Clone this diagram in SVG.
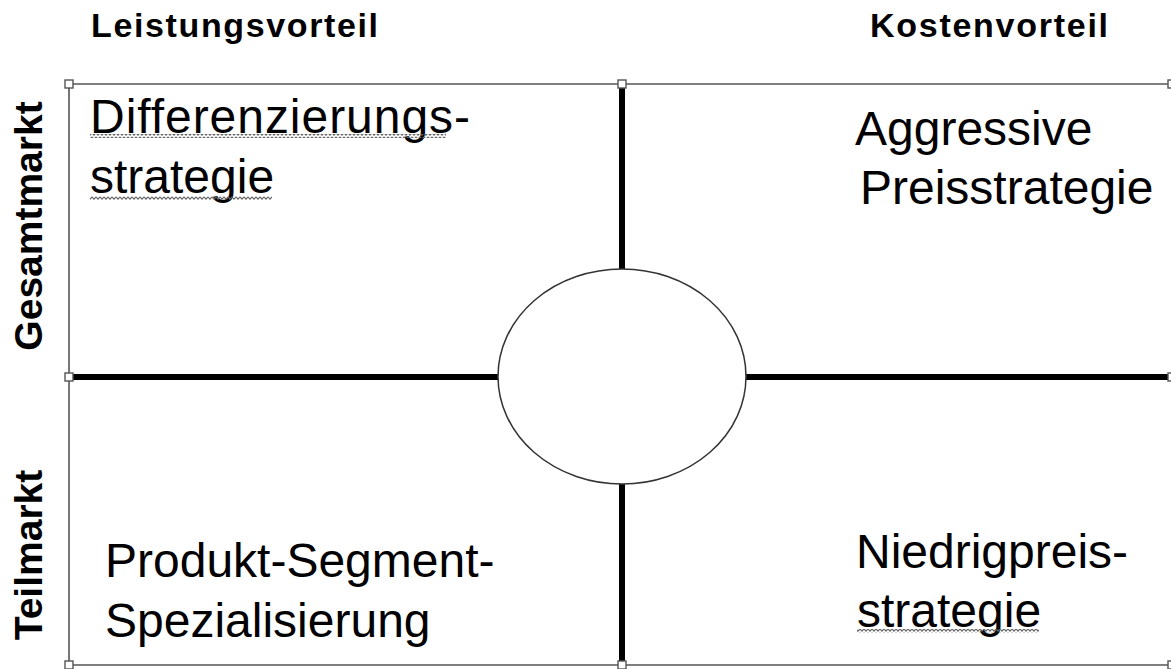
<svg xmlns="http://www.w3.org/2000/svg" width="1171" height="669" viewBox="0 0 1171 669">
  <style>
    .head { font-family: "Liberation Sans", Arial, sans-serif; font-weight: bold; font-size: 34px; fill: #000; }
    .axis { font-family: "Liberation Sans", Arial, sans-serif; font-weight: bold; font-size: 39px; fill: #000; }
    .cell { font-family: "Liberation Sans", Arial, sans-serif; font-size: 48px; fill: #000; }
    .frame { stroke: #555; stroke-width: 1.6; fill: none; }
    .divider { stroke: #000; stroke-width: 6; fill: none; }
    .handle { fill: #fff; stroke: #555; stroke-width: 1.4; }
  </style>
  <defs>
    <!-- zigzag used for the spell-check underlines -->
    <pattern id="squiggle" width="4" height="4" patternUnits="userSpaceOnUse">
      <path d="M0,0.8 L2,3.2 L4,0.8" stroke="#666" stroke-width="1.1" fill="none"/>
    </pattern>
  </defs>

  <rect width="1171" height="669" fill="#fff"/>

  <!-- column headings -->
  <g id="heading-leistung">
    <text class="head" x="91" y="37" textLength="287" lengthAdjust="spacing">Leistungsvorteil</text>
  </g>
  <g id="heading-kosten">
    <text class="head" x="870" y="37" textLength="238" lengthAdjust="spacing">Kostenvorteil</text>
  </g>

  <!-- row headings, reading bottom to top -->
  <g id="heading-gesamtmarkt">
    <text class="axis" transform="translate(42,226) rotate(-90)" text-anchor="middle">Gesamtmarkt</text>
  </g>
  <g id="heading-teilmarkt">
    <text class="axis" transform="translate(42,555) rotate(-90)" text-anchor="middle">Teilmarkt</text>
  </g>

  <!-- outer frame -->
  <g id="frame">
    <path class="frame" d="M69,84 H1172 M69,84 V665 M69,665 H1172"/>
  </g>

  <!-- dividing lines between the four fields -->
  <g id="connectors">
    <line class="divider" x1="622" y1="88" x2="622" y2="269"/>
    <line class="divider" x1="622" y1="484" x2="622" y2="661"/>
    <line class="divider" x1="73" y1="377" x2="498" y2="377"/>
    <line class="divider" x1="746" y1="377" x2="1168" y2="377"/>
  </g>

  <!-- centre ellipse -->
  <g id="center">
    <ellipse cx="622" cy="376.5" rx="124" ry="107.5" fill="#fff" stroke="#333" stroke-width="1.5"/>
  </g>

  <!-- selection handles -->
  <g id="handles">
    <rect class="handle" x="65" y="80" width="8" height="8"/>
    <rect class="handle" x="618" y="80" width="8" height="8"/>
    <rect class="handle" x="1168" y="80" width="8" height="8"/>
    <rect class="handle" x="65" y="373" width="8" height="8"/>
    <rect class="handle" x="1168" y="373" width="8" height="8"/>
    <rect class="handle" x="65" y="661" width="8" height="8"/>
    <rect class="handle" x="618" y="661" width="8" height="8"/>
    <rect class="handle" x="1168" y="661" width="8" height="8"/>
  </g>

  <!-- quadrant: top left -->
  <g id="differenzierungsstrategie">
    <text class="cell" x="90" y="133" textLength="380" lengthAdjust="spacing">Differenzierungs-</text>
    <text class="cell" x="90" y="193">strategie</text>
    <rect x="90" y="134" width="356" height="4" fill="url(#squiggle)"/>
    <rect x="90" y="196" width="182" height="4" fill="url(#squiggle)"/>
  </g>

  <!-- quadrant: top right -->
  <g id="aggressive-preisstrategie">
    <text class="cell" x="855" y="145">Aggressive</text>
    <text class="cell" x="860" y="204">Preisstrategie</text>
  </g>

  <!-- quadrant: bottom left -->
  <g id="produkt-segment-spezialisierung">
    <text class="cell" x="105" y="577">Produkt-Segment-</text>
    <text class="cell" x="105" y="637">Spezialisierung</text>
  </g>

  <!-- quadrant: bottom right -->
  <g id="niedrigpreisstrategie">
    <text class="cell" x="856" y="568">Niedrigpreis-</text>
    <text class="cell" x="857" y="627">strategie</text>
    <rect x="857" y="629" width="182" height="4" fill="url(#squiggle)"/>
  </g>
</svg>
